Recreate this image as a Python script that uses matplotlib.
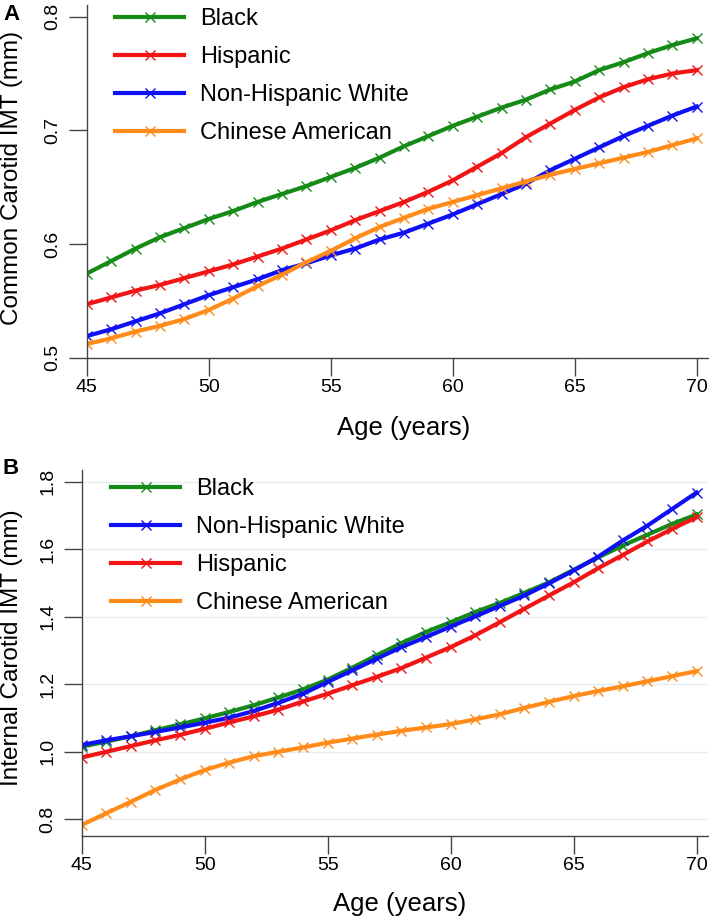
import numpy as np
import matplotlib
matplotlib.use("Agg")
import matplotlib.pyplot as plt

plt.rcParams["font.family"] = ["Liberation Sans", "DejaVu Sans"]

# ages, one point per year
AGE = list(range(45, 71))

# panel A: common carotid IMT (mm)
CCA_BLACK = [0.574, 0.585, 0.596, 0.606, 0.614, 0.622, 0.629, 0.637, 0.644, 0.651,
             0.659, 0.667, 0.676, 0.686, 0.695, 0.704, 0.712, 0.720, 0.727, 0.736,
             0.743, 0.753, 0.760, 0.768, 0.775, 0.781]
CCA_HISP = [0.547, 0.553, 0.559, 0.564, 0.570, 0.576, 0.582, 0.589, 0.596, 0.604,
            0.612, 0.621, 0.629, 0.637, 0.646, 0.656, 0.668, 0.680, 0.694, 0.706,
            0.718, 0.729, 0.738, 0.745, 0.750, 0.753]
CCA_NHW = [0.519, 0.525, 0.532, 0.539, 0.547, 0.555, 0.562, 0.569, 0.577, 0.583,
           0.590, 0.596, 0.604, 0.610, 0.618, 0.626, 0.635, 0.644, 0.653, 0.665,
           0.675, 0.685, 0.695, 0.704, 0.713, 0.721]
CCA_CHIN = [0.512, 0.517, 0.523, 0.528, 0.534, 0.542, 0.552, 0.563, 0.573, 0.584,
            0.594, 0.605, 0.615, 0.623, 0.631, 0.637, 0.643, 0.649, 0.655, 0.661,
            0.666, 0.671, 0.676, 0.681, 0.687, 0.693]

# panel B: internal carotid IMT (mm)
ICA_BLACK = [1.015, 1.030, 1.046, 1.064, 1.081, 1.099, 1.118, 1.138, 1.161, 1.185,
             1.214, 1.249, 1.286, 1.322, 1.355, 1.384, 1.414, 1.441, 1.471, 1.502,
             1.539, 1.576, 1.611, 1.643, 1.675, 1.703]
ICA_NHW = [1.020, 1.034, 1.046, 1.059, 1.072, 1.086, 1.101, 1.121, 1.145, 1.172,
           1.207, 1.241, 1.276, 1.310, 1.340, 1.371, 1.401, 1.432, 1.463, 1.499,
           1.537, 1.578, 1.626, 1.670, 1.719, 1.768]
ICA_HISP = [0.983, 1.000, 1.017, 1.034, 1.050, 1.068, 1.087, 1.105, 1.125, 1.149,
            1.172, 1.197, 1.222, 1.248, 1.279, 1.310, 1.345, 1.384, 1.424, 1.463,
            1.502, 1.544, 1.583, 1.623, 1.660, 1.695]
ICA_CHIN = [0.783, 0.818, 0.852, 0.887, 0.918, 0.946, 0.968, 0.987, 1.000, 1.013,
            1.027, 1.039, 1.051, 1.062, 1.072, 1.082, 1.096, 1.111, 1.130, 1.148,
            1.165, 1.180, 1.194, 1.209, 1.224, 1.239]

X_TICKS = [45, 50, 55, 60, 65, 70]
A_YTICKS = [0.5, 0.6, 0.7, 0.8]
A_YLABELS = ["0.5", "0.6", "0.7", "0.8"]
B_YTICKS = [0.8, 1.0, 1.2, 1.4, 1.6, 1.8]
B_YLABELS = ["0.8", "1.0", "1.2", "1.4", "1.6", "1.8"]

COLORS = {"Black": "#168a16", "Hispanic": "#f21515",
          "Non-Hispanic White": "#1010f5", "Chinese American": "#ff8c1a"}


def style_axis(ax, yticks, ylabels, ylim):
    ax.set_xlim(45, 70.46)
    ax.set_ylim(*ylim)
    for s in ("top", "right"):
        ax.spines[s].set_visible(False)
    for s in ("left", "bottom"):
        ax.spines[s].set_color("#444444")
        ax.spines[s].set_linewidth(1.0)
    ax.set_xticks(X_TICKS)
    ax.set_yticks(yticks)
    ax.set_yticklabels(ylabels, rotation=90, va="center")
    ax.tick_params(axis="both", direction="out", length=13, width=1.0,
                   color="#444444", labelsize=14)
    ax.tick_params(axis="y", pad=5)
    ax.tick_params(axis="x", pad=2)


def draw(ax, series):
    for name, vals in series:
        ax.plot(AGE, vals, color=COLORS[name], linewidth=3.0, marker="x",
                markersize=6.5, markeredgewidth=1.0, label=name)


def legend(ax, x, y):
    ax.legend(loc="upper left", bbox_to_anchor=(x / 709, 1 - y / 917),
              bbox_transform=fig.transFigure, frameon=False,
              prop={"size": 17}, handlelength=2.9, handletextpad=0.7,
              labelspacing=0.67, borderaxespad=0)


fig = plt.figure(figsize=(7.09, 9.17), dpi=100)

# ---- panel A
axA = fig.add_axes([86.7 / 709, 1 - 357.7 / 917, (708 - 86.7) / 709, (357.7 - 5) / 917])
draw(axA, [("Black", CCA_BLACK), ("Hispanic", CCA_HISP),
           ("Non-Hispanic White", CCA_NHW), ("Chinese American", CCA_CHIN)])
style_axis(axA, A_YTICKS, A_YLABELS, (0.5, 0.8103))
legend(axA, 106, -1)

# ---- panel B
axB = fig.add_axes([81.7 / 709, 1 - 836 / 917, (708 - 81.7) / 709, (836 - 470) / 917])
draw(axB, [("Black", ICA_BLACK), ("Non-Hispanic White", ICA_NHW),
           ("Hispanic", ICA_HISP), ("Chinese American", ICA_CHIN)])
style_axis(axB, B_YTICKS, B_YLABELS, (0.7505, 1.8347))
axB.yaxis.grid(True, color="#e6edf1", linewidth=1.0)
axB.set_axisbelow(True)
legend(axB, 102, 469)

# axis titles and panel letters
fig.text(12 / 709, 1 - 178 / 917, "Common Carotid IMT (mm)", rotation=90,
         ha="center", va="center", fontsize=17.5)
fig.text(12 / 709, 1 - 648 / 917, "Internal Carotid IMT (mm)", rotation=90,
         ha="center", va="center", fontsize=17.5)
fig.text(404 / 709, 1 - 428 / 917, "Age (years)", ha="center", va="center", fontsize=18.5)
fig.text(400 / 709, 1 - 904 / 917, "Age (years)", ha="center", va="center", fontsize=18.5)
fig.text(3 / 709, 1 - 15 / 917, "A", ha="left", va="center", fontsize=16, fontweight="bold")
fig.text(3 / 709, 1 - 469 / 917, "B", ha="left", va="center", fontsize=16, fontweight="bold")

fig.savefig("out.png", dpi=100)
